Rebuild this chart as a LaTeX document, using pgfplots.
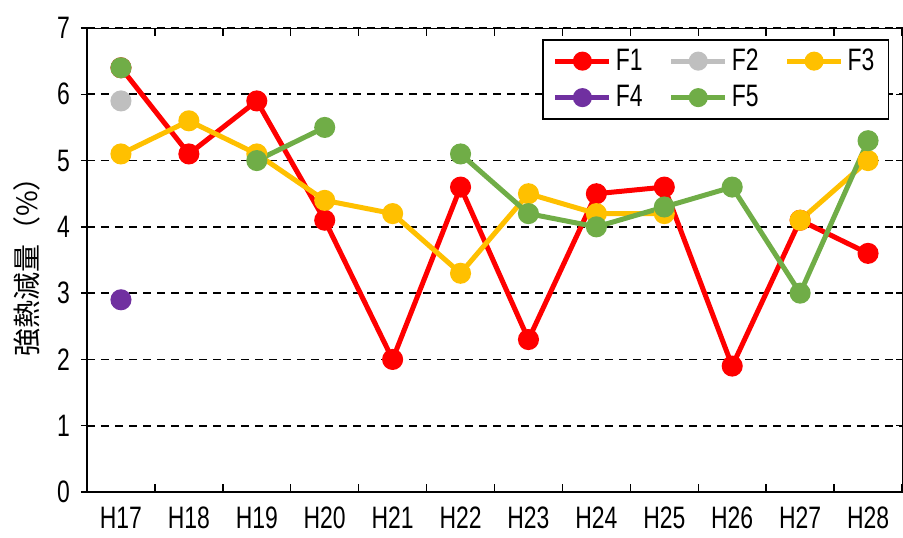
\documentclass[border=0pt]{standalone}
\usepackage{pgfplots}
\pgfplotsset{compat=1.18}
\usepackage{fontspec}
\setmainfont{Liberation Sans}[FakeStretch=0.74]
\newfontfamily\cjk{Noto Sans CJK JP}
\definecolor{cF1}{RGB}{255,0,0}
\definecolor{cF2}{RGB}{191,191,191}
\definecolor{cF3}{RGB}{255,192,0}
\definecolor{cF4}{RGB}{112,48,160}
\definecolor{cF5}{RGB}{112,173,71}
\begin{document}
\begin{tikzpicture}
\begin{axis}[
  at={(0,0)}, anchor=south west,
  scale only axis, width=407.5pt, height=232pt,
  xmin=-0.5, xmax=11.5, ymin=0, ymax=7,
  xtick={0,...,11},
  xticklabels={H17,H18,H19,H20,H21,H22,H23,H24,H25,H26,H27,H28},
  major x tick style={draw=none},
  minor xtick={-0.5,0.5,...,11.5},
  minor x tick style={black, line width=0.7pt},
  minor tick length=4pt,
  x tick label style={font=\fontsize{15.5}{17}\selectfont, yshift=-4pt},
  ytick={0,...,7},
  y tick label style={font=\fontsize{15.5}{17}\selectfont, xshift=-2pt},
  /pgf/number format/assume math mode=true,
  ytick align=center,
  major tick length=6pt,
  y tick style={black, line width=0.7pt},
  ymajorgrids,
  major y grid style={black, dashed, line width=0.8pt, dash pattern=on 4pt off 3pt},
  axis line style={black, line width=0.5pt},
  ylabel={\cjk\fontsize{14}{16}\selectfont 強熱減量（\%）},
  ylabel style={at={(axis description cs:0,0.5)}, anchor=center, yshift=30pt},
  unbounded coords=jump,
  legend columns=3,
  legend cell align=left,
  legend style={at={(rel axis cs:0.5584,0.9763)}, anchor=north west,
    draw=black, line width=0.8pt, font=\fontsize{15.5}{17}\selectfont,
    inner xsep=5pt, inner ysep=2.5pt, row sep=2pt,
    /tikz/every odd column/.append style={column sep=0pt},
    /tikz/every even column/.append style={column sep=11pt}},
  legend image code/.code={
    \draw[#1, line width=2.5pt] (0cm,0cm) -- (0.95cm,0cm);
    \fill[#1] (0.475cm,0cm) circle (3.5pt);
  },
  every axis plot/.append style={line width=2.5pt, mark=*, mark size=4pt, mark options={solid}},
]
\addplot[cF1, mark options={fill=cF1, draw=cF1}] coordinates {
(0,6.4) (1,5.1) (2,5.9) (3,4.1) (4,2.0) (5,4.6) (6,2.3) (7,4.5) (8,4.6) (9,1.9) (10,4.1) (11,3.6)};
\addlegendentry{F1}
\addplot[cF2, mark options={fill=cF2, draw=cF2}] coordinates {(0,5.9)};
\addlegendentry{F2}
\addplot[cF3, mark options={fill=cF3, draw=cF3}] coordinates {
(0,5.1) (1,5.6) (2,5.1) (3,4.4) (4,4.2) (5,3.3) (6,4.5) (7,4.2) (8,4.2) (9,nan) (10,4.1) (11,5.0)};
\addlegendentry{F3}
\addplot[cF4, mark options={fill=cF4, draw=cF4}] coordinates {(0,2.9)};
\addlegendentry{F4}
\addplot[cF5, mark options={fill=cF5, draw=cF5}] coordinates {
(0,6.4) (1,nan) (2,5.0) (3,5.5) (4,nan) (5,5.1) (6,4.2) (7,4.0) (8,4.3) (9,4.6) (10,3.0) (11,5.3)};
\addlegendentry{F5}
\draw[black, line width=1.2pt] (rel axis cs:0,1) -- (rel axis cs:0,0) -- (rel axis cs:1,0);
\end{axis}
\pgfresetboundingbox
\path[use as bounding box] (-43.5pt,-22.5pt) rectangle (408pt,246pt);
\end{tikzpicture}
\end{document}
